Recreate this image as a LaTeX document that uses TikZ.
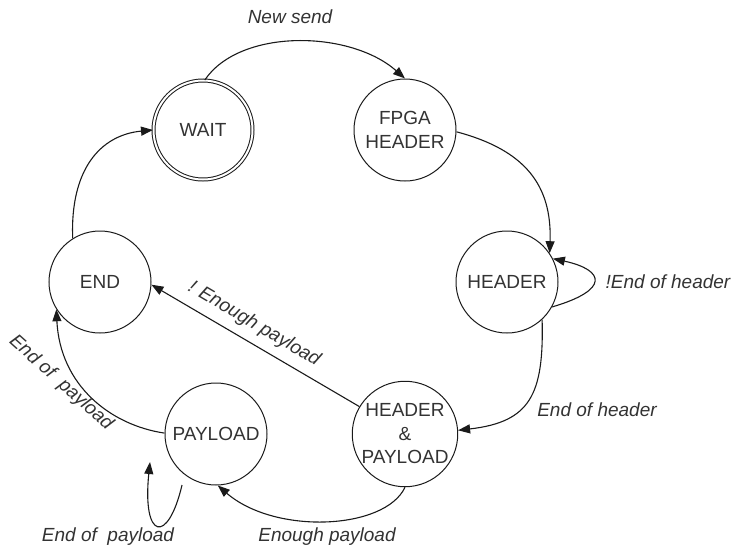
\documentclass[tikz,border=0pt]{standalone}
\usepackage{fontspec}
\setmainfont{Liberation Sans}
\usetikzlibrary{arrows.meta}

\definecolor{ink}{HTML}{1A1A1A}
\definecolor{txt}{HTML}{333333}

\tikzset{
  state/.style={circle, draw=ink, line width=1pt, minimum size=102pt, inner sep=0pt,
    text=txt, align=center, font=\fontsize{19}{23.5}\selectfont},
  startstate/.style={state, double, double distance=2pt, minimum size=99pt},
  trans/.style={draw=ink, line width=1.1pt, -{Triangle[length=12pt,width=9pt]}},
  lbl/.style={text=txt, font=\fontsize{19}{23}\selectfont\itshape, inner sep=0pt}
}

\begin{document}
\begin{tikzpicture}[x=1pt, y=-1pt]
  \useasboundingbox (0,0) rectangle (732,552);

  % states
  \node[startstate] (wait) at (203,130) {WAIT};
  \node[state] (fpga) at (405,130) {FPGA\\HEADER};
  \node[state] (header) at (507,282) {HEADER};
  \node[state] (hp) at (405,434) {HEADER\\\&\\PAYLOAD};
  \node[state] (payload) at (216,434) {PAYLOAD};
  \node[state] (end) at (100,282) {END};

  % free ends of the payload self loop
  \coordinate (ploopA) at (182,485);
  \coordinate (ploopB) at (150,462);

  % transitions
  \draw[trans] (wait.88) .. controls (240,28) and (350,30) .. (fpga.90);
  \draw[trans] (fpga.-2) .. controls (525,150) and (552,185) .. (header.34);
  \draw[trans] (header.-29) .. controls (610,290) and (605,270) .. (header.27);
  \draw[trans] (header.-47) .. controls (544,395) and (530,422) .. (hp.4);
  \draw[trans] (hp.-90) .. controls (385,530) and (275,535) .. (payload.-88);
  \draw[trans] (ploopA) .. controls (168,545) and (142,540) .. (ploopB);
  \draw[trans] (payload.179) .. controls (110,425) and (60,385) .. (end.212);
  \draw[trans] (hp.149) -- (end.-3);
  \draw[trans] (end.122) .. controls (70,170) and (100,135) .. (wait.180);

  % transition labels
  \node[lbl] (lnew) at (290,17) {New send};
  \node[lbl] (lnoeoh) at (668,282) {!End of header};
  \node[lbl] (leoh) at (597,410) {End of header};
  \node[lbl] (lenough) at (327,537) {Enough payload};
  \node[lbl] (leop) at (108,537) {End of\ \ payload};
  \node[lbl, rotate=-30.5] (lnotenough) at (254,324) {! Enough payload};
  \node[lbl, rotate=-42] (leop2) at (61,383) {End of\ \ payload};
\end{tikzpicture}
\end{document}
